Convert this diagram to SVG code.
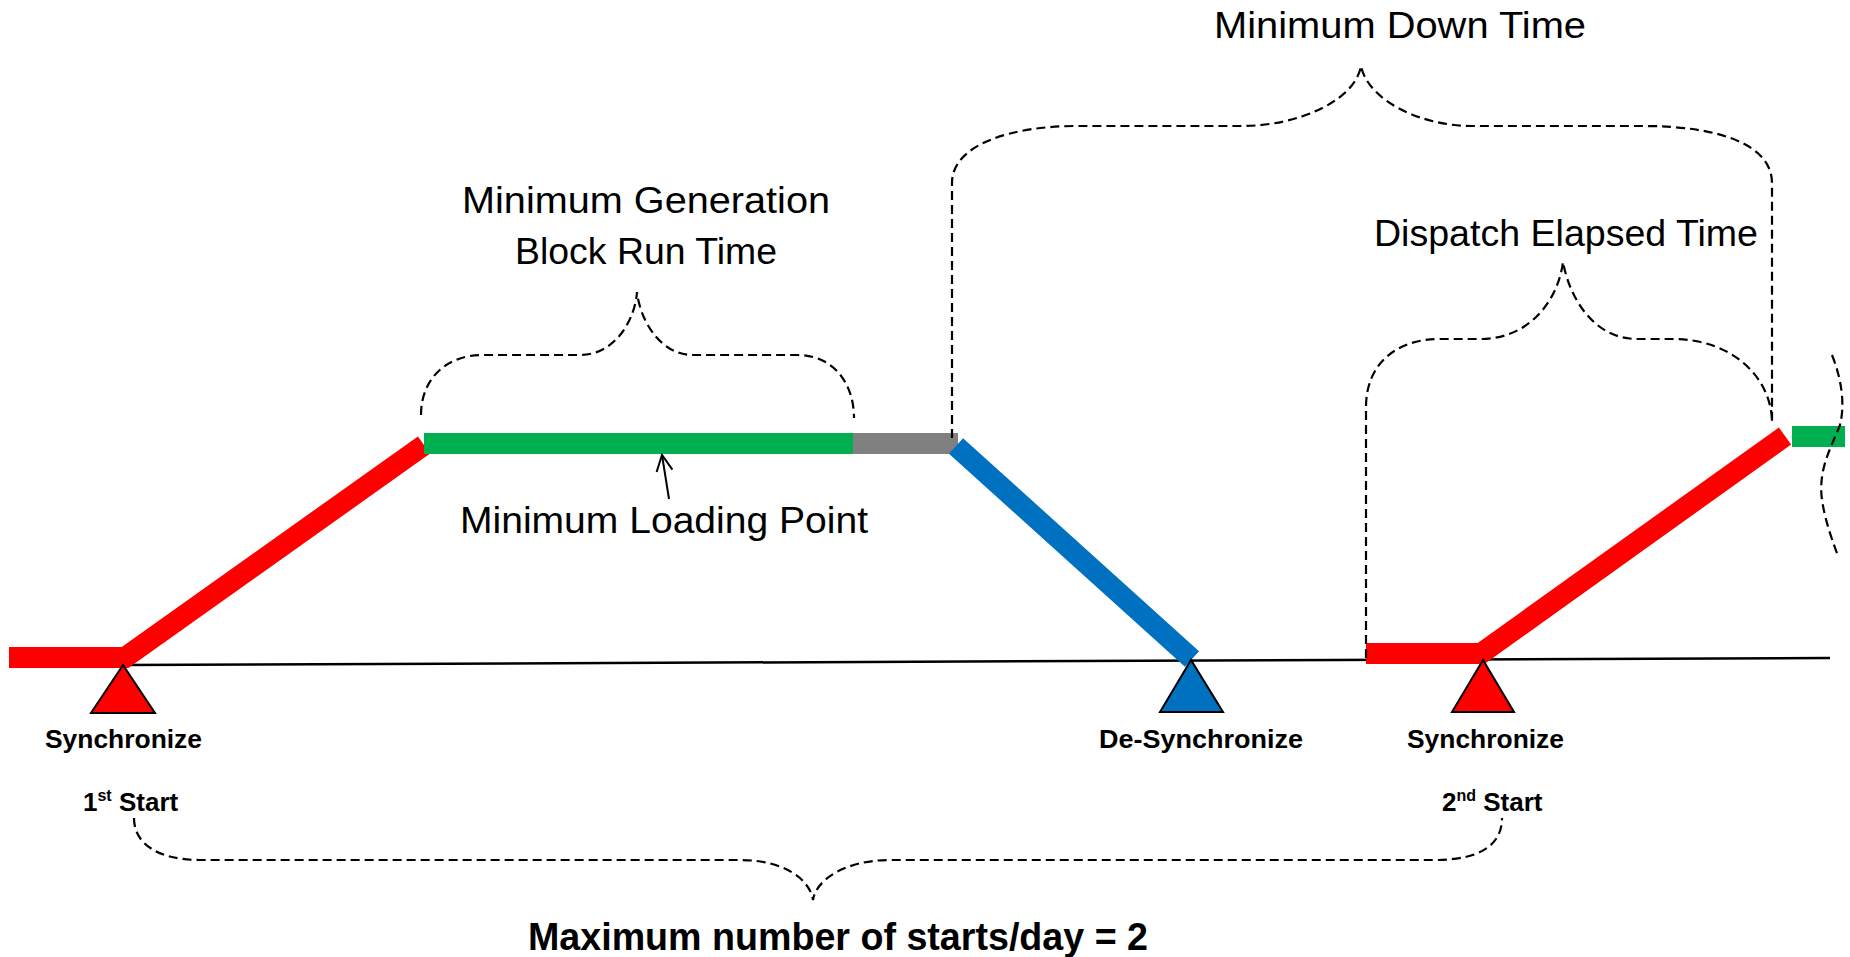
<svg xmlns="http://www.w3.org/2000/svg" width="1850" height="957" viewBox="0 0 1850 957">
  <defs>
    <style>
      .lbl { font-family: "Liberation Sans", Arial, sans-serif; font-size: 37px; fill: #000; }
      .bold { font-family: "Liberation Sans", Arial, sans-serif; font-weight: bold; font-size: 26px; fill: #000; }
      .big { font-family: "Liberation Sans", Arial, sans-serif; font-weight: bold; font-size: 38px; fill: #000; }
      .brace { fill: none; stroke: #000; stroke-width: 2.2; stroke-dasharray: 9 5; }
      .tri { stroke: #000; stroke-width: 2; stroke-linejoin: miter; }
      .thick { fill: none; stroke-width: 21; stroke-linecap: butt; stroke-linejoin: miter; }
    </style>
    <marker id="openArrow" viewBox="0 0 20 20" refX="18" refY="10" markerWidth="20" markerHeight="20" markerUnits="userSpaceOnUse" orient="auto">
      <path d="M2,2 L18,10 L2,18" fill="none" stroke="#000" stroke-width="2"/>
    </marker>
  </defs>
  <rect width="1850" height="957" fill="#fff"/>

  <g id="baseline">
    <line x1="124" y1="665" x2="1830" y2="658" stroke="#000" stroke-width="2.5"/>
  </g>

  <g id="ramp-up-1">
    <polyline class="thick" stroke="#FF0000" points="9,657.5 125,657.5 424,445"/>
  </g>
  <g id="min-gen-block">
    <rect x="424" y="433" width="429" height="21" fill="#00B050"/>
  </g>
  <g id="idle-gray">
    <rect x="853" y="433" width="105" height="21" fill="#808080"/>
  </g>
  <g id="ramp-down">
    <line class="thick" stroke="#0070C0" x1="956" y1="446" x2="1192" y2="659"/>
  </g>
  <g id="ramp-up-2">
    <polyline class="thick" stroke="#FF0000" points="1366,653.5 1481,653.5 1785,436"/>
  </g>
  <g id="gen-block-2">
    <rect x="1792" y="426" width="53" height="21" fill="#00B050"/>
  </g>

  <g id="sync-1">
    <polygon class="tri" fill="#FF0000" points="123,665 91,713 155,713"/>
    <text class="bold" x="123.5" y="748" text-anchor="middle" textLength="157" lengthAdjust="spacingAndGlyphs">Synchronize</text>
    <text class="bold" x="83" y="811">1<tspan font-size="16" dy="-10">st</tspan><tspan dy="10"> Start</tspan></text>
  </g>
  <g id="desync">
    <polygon class="tri" fill="#0070C0" points="1191,660 1160,712 1223,712"/>
    <text class="bold" x="1201" y="748" text-anchor="middle" textLength="204" lengthAdjust="spacingAndGlyphs">De-Synchronize</text>
  </g>
  <g id="sync-2">
    <polygon class="tri" fill="#FF0000" points="1483,660 1452,712 1514,712"/>
    <text class="bold" x="1485.5" y="748" text-anchor="middle" textLength="157" lengthAdjust="spacingAndGlyphs">Synchronize</text>
    <text class="bold" x="1442" y="811">2<tspan font-size="16" dy="-10">nd</tspan><tspan dy="10"> Start</tspan></text>
  </g>

  <g id="label-min-gen">
    <text class="lbl" x="646" y="213" text-anchor="middle" textLength="368" lengthAdjust="spacingAndGlyphs">Minimum Generation</text>
    <text class="lbl" x="646" y="264" text-anchor="middle" textLength="262" lengthAdjust="spacingAndGlyphs">Block Run Time</text>
  </g>
  <g id="label-min-load">
    <text class="lbl" x="664" y="533" text-anchor="middle" textLength="408" lengthAdjust="spacingAndGlyphs">Minimum Loading Point</text>
  </g>
  <g id="label-min-down">
    <text class="lbl" x="1400" y="38" text-anchor="middle" textLength="372" lengthAdjust="spacingAndGlyphs">Minimum Down Time</text>
  </g>
  <g id="label-dispatch">
    <text class="lbl" x="1566" y="246" text-anchor="middle" textLength="384" lengthAdjust="spacingAndGlyphs">Dispatch Elapsed Time</text>
  </g>
  <g id="label-max-starts">
    <text class="big" x="838" y="950" text-anchor="middle" textLength="620" lengthAdjust="spacingAndGlyphs">Maximum number of starts/day = 2</text>
  </g>

  <g id="connectors">
    <path class="brace" d="M421,415 C421,380 445,355 483,355 L580,355 C615,355 635,320 637,292 C640,320 660,355 693,355 L797,355 C835,355 854,385 854,418"/>
    <path class="brace" d="M952,438 L952,183 C952,145 1010,126 1077,126 L1241,126 C1300,126 1355,100 1361,66 C1368,100 1420,126 1472,126 L1643,126 C1720,126 1772,145 1772,183 L1772,422"/>
    <path class="brace" d="M1366,658 L1366,407 C1366,365 1395,339 1440,339 L1480,339 C1530,339 1558,300 1563,262 C1570,300 1595,339 1637,339 L1673,339 C1730,339 1770,375 1772,420"/>
    <path class="brace" d="M1832,355 C1842,380 1845,405 1840,425 C1830,450 1818,470 1822,500 C1825,520 1832,540 1838,556"/>
    <path class="brace" stroke-dasharray="8 4" d="M134,818 C134,845 160,860 200,860 L740,860 C785,860 810,880 813,900 C816,880 845,860 890,860 L1435,860 C1480,860 1502,845 1502,818"/>
    <line x1="669" y1="499" x2="662" y2="455" stroke="#000" stroke-width="2" marker-end="url(#openArrow)"/>
  </g>
</svg>
